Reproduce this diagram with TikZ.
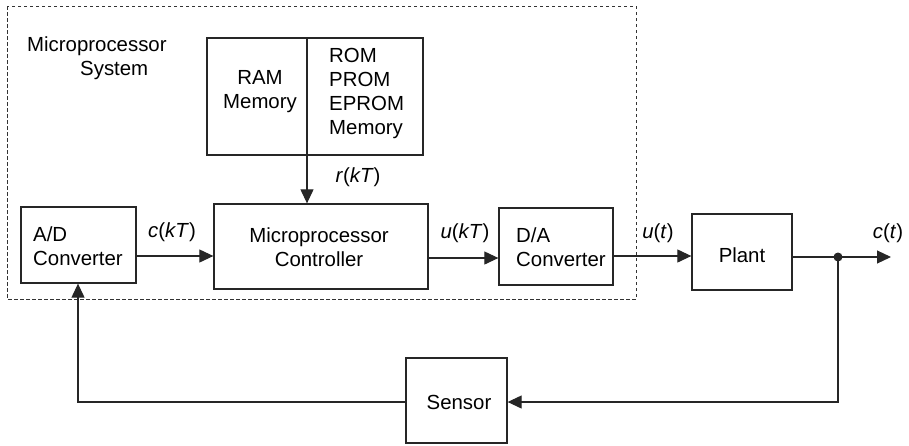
\documentclass[tikz,border=0pt]{standalone}
\usepackage{fontspec}
\setmainfont{Liberation Sans}
\usetikzlibrary{arrows.meta}
\begin{document}
\begin{tikzpicture}[x=1pt,y=-1pt,
  blk/.style={draw=black!85, line width=1.3pt, inner sep=0pt},
  lbl/.style={inner sep=0pt, font=\fontsize{20.4}{24}\selectfont},
  txt/.style={inner sep=0pt, font=\fontsize{20.4}{24}\selectfont, align=left},
  conn/.style={line width=1.1pt, draw=black!85, -{Triangle[length=14pt,width=13pt]}},
  wire/.style={line width=1.1pt, draw=black!85}]
\useasboundingbox (0,0) rectangle (909,445);
% dashed system box
\draw[line width=1pt, dash pattern=on 3.5pt off 2.5pt, black!80] (7,6) rectangle (636,299);
\node[txt, anchor=north west] (systxt) at (27,37) {Microprocessor\\\hspace{53pt}System};
% memory
\node[blk, minimum width=216pt, minimum height=117pt] (mem) at (315,96.5) {};
\draw[line width=1.3pt, black!85] (307,38) -- (307,155) coordinate (memb);
\node[txt, align=center] (ram) at (260,92) {RAM\\Memory};
\node[txt, anchor=west] (rom) at (329,93) {ROM\\PROM\\EPROM\\Memory};
% blocks
\node[blk, minimum width=115pt, minimum height=76pt] (ad) at (78.5,245) {};
\node[txt, anchor=west] at (33,246) {A/D\\Converter};
\node[blk, minimum width=214pt, minimum height=85pt] (mc) at (321,246.5) {};
\node[txt, align=center] at (319,247) {Microprocessor\\Controller};
\node[blk, minimum width=114pt, minimum height=77pt] (da) at (556,246.5) {};
\node[txt, anchor=west] at (516,247) {D/A\\Converter};
\node[blk, minimum width=100pt, minimum height=76pt] (plant) at (742,252) {};
\node[lbl] at (742,255) {Plant};
\node[blk, minimum width=101pt, minimum height=85pt] (sensor) at (456.5,400.5) {};
\node[lbl] at (459,402) {Sensor};
% labels
\node[lbl] (rkt) at (358,177) {\textit{r}(\textit{kT})};
\node[lbl] (ckt) at (172,232) {\textit{c}(\textit{kT})};
\node[lbl] (ukt) at (465,233) {\textit{u}(\textit{kT})};
\node[lbl] (ut) at (658,233) {\textit{u}(\textit{t})};
\node[lbl] (ct) at (888,233) {\textit{c}(\textit{t})};
% connectors
\coordinate (jn) at (838,257);
\coordinate (out) at (891,257);
\coordinate (br) at (838,402);
\coordinate (bl) at (78,402);
\draw[conn] (307,155) -- (mc.north -| 307,0);
\draw[conn] (ad.east |- 0,256) -- (mc.west |- 0,256);
\draw[conn] (mc.east |- 0,258) -- (da.west |- 0,258);
\draw[conn] (da.east |- 0,256) -- (plant.west |- 0,256);
\draw[wire] (plant.east |- jn) -- (jn);
\draw[conn] (jn) -- (out);
\fill[black!85] (jn) circle (4.5pt);
\draw[conn] (jn) -- (br) -- (sensor.east |- br);
\draw[conn] (sensor.west |- bl) -- (bl) -- (ad.south -| bl);
\end{tikzpicture}
\end{document}
